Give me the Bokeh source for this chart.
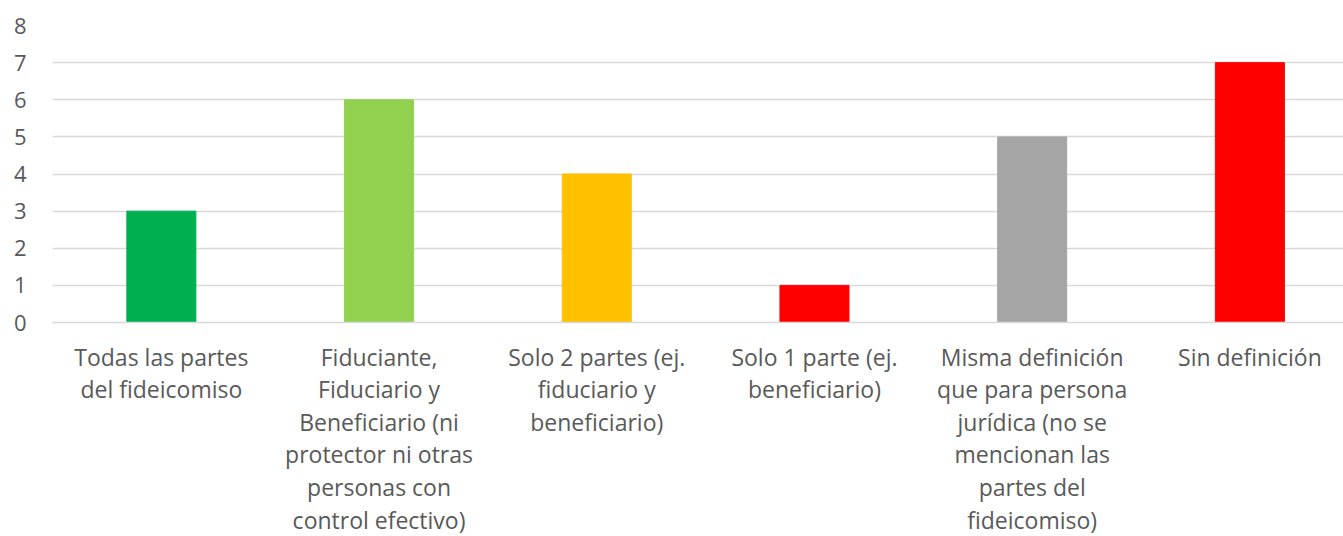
from bokeh.plotting import figure
from bokeh.models import ColumnDataSource, FixedTicker, Range1d
from bokeh.embed import file_html
from bokeh.resources import INLINE

categories = [
    "Todas las partes\ndel fideicomiso",
    "Fiduciante,\nFiduciario y\nBeneficiario (ni\nprotector ni otras\npersonas con\ncontrol efectivo)",
    "Solo 2 partes (ej.\nfiduciario y\nbeneficiario)",
    "Solo 1 parte (ej.\nbeneficiario)",
    "Misma definición\nque para persona\njurídica (no se\nmencionan las\npartes del\nfideicomiso)",
    "Sin definición",
]
values = [3, 6, 4, 1, 5, 7]
y_ticks = [0, 1, 2, 3, 4, 5, 6, 7, 8]
bar_colors = ["#00B050", "#92D050", "#FFC000", "#FF0000", "#A5A5A5", "#FF0000"]

xs = list(range(len(categories)))
source = ColumnDataSource(dict(x=xs, top=values, color=bar_colors))

FONT = "Open Sans"
TXT = "#595959"

p = figure(frame_width=1291, frame_height=297, output_backend="svg", toolbar_location=None,
           x_range=Range1d(-0.5, 5.43), y_range=Range1d(0, 8),
           min_border_left=52, min_border_right=0, min_border_top=25,
           min_border_bottom=0)
p.outline_line_color = None
p.border_fill_color = "white"
p.background_fill_color = "white"

p.vbar(x="x", top="top", bottom=0, width=0.317, color="color", source=source)

p.xgrid.grid_line_color = None
p.ygrid.grid_line_color = "#D9D9D9"
p.ygrid.grid_line_width = 1.3
p.ygrid.ticker = FixedTicker(ticks=y_ticks)

p.yaxis.ticker = FixedTicker(ticks=y_ticks)
p.yaxis.axis_line_color = None
p.yaxis.major_tick_line_color = None
p.yaxis.minor_tick_line_color = None
p.yaxis.major_label_standoff = 20
p.yaxis.major_label_text_font = FONT
p.yaxis.major_label_text_font_size = "22px"
p.yaxis.major_label_text_color = TXT

p.xaxis.ticker = FixedTicker(ticks=xs)
p.xaxis.major_label_overrides = {i: c for i, c in zip(xs, categories)}
p.xaxis.axis_line_color = "#D9D9D9"
p.xaxis.axis_line_width = 1.3
p.xaxis.major_tick_line_color = None
p.xaxis.minor_tick_line_color = None
p.xaxis.major_label_standoff = 12
p.xaxis.major_label_text_font = FONT
p.xaxis.major_label_text_font_size = "23px"
p.xaxis.major_label_text_color = TXT
p.xaxis.major_label_text_line_height = 1.02

open("out.html", "w").write(file_html(p, INLINE))
